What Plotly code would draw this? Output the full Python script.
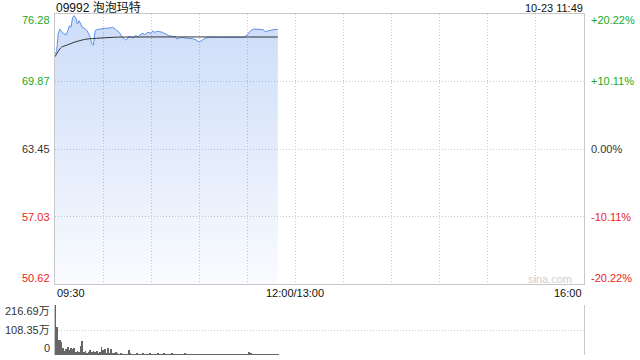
import plotly.graph_objects as go

# ---------------- data ----------------
title_text = "09992 泡泡玛特"
stamp_text = "10-23 11:49"
prev_close = 63.45

price_ticks = [50.62, 57.03, 63.45, 69.87, 76.28]
pct_ticks = ["-20.22%", "-10.11%", "0.00%", "+10.11%", "+20.22%"]
vol_ticks = [0, 108.35, 216.69]
vol_tick_text = ["0", "108.35万", "216.69万"]
x_tick_labels = ["09:30", "12:00/13:00", "16:00"]

price_times = ["09:30", "09:31", "09:32", "09:33", "09:35", "09:37", "09:38", "09:39", "09:40", "09:41",
               "09:42", "09:43", "09:44", "09:45", "09:46", "09:47", "09:49", "09:50", "09:52", "09:53",
               "09:54", "09:55", "09:56", "09:58", "10:01", "10:04", "10:06", "10:08", "10:10", "10:12",
               "10:14", "10:15", "10:16", "10:17", "10:19", "10:20", "10:22", "10:23", "10:25", "10:26",
               "10:28", "10:30", "10:31", "10:32", "10:34", "10:37", "10:39", "10:41", "10:43", "10:45",
               "10:46", "10:48", "10:49", "10:51", "10:53", "10:56", "10:58", "11:00", "11:02", "11:04",
               "11:06", "11:10", "11:13", "11:16", "11:19", "11:22", "11:25", "11:28", "11:30", "11:32",
               "11:34", "11:37", "11:40", "11:41", "11:43", "11:46", "11:49"]
price_values = [72.48, 72.73, 74.38, 74.85, 74.45, 74.31, 74.69, 75.17, 75.02, 75.97,
                76.12, 75.90, 75.33, 75.64, 75.33, 75.02, 74.85, 74.69, 74.07, 73.43,
                73.33, 74.69, 74.79, 74.85, 74.92, 74.95, 75.02, 74.79, 74.54, 74.07,
                73.81, 73.90, 74.16, 74.12, 74.00, 74.22, 74.12, 74.31, 74.45, 74.31,
                74.54, 74.45, 74.69, 74.54, 74.64, 74.54, 74.38, 74.22, 74.16, 74.12,
                73.90, 73.97, 74.07, 74.00, 74.00, 73.93, 73.81, 73.62, 73.81, 74.00,
                74.07, 74.07, 74.12, 74.12, 74.07, 74.12, 74.07, 74.07, 74.31, 74.69,
                74.85, 74.85, 74.79, 74.60, 74.69, 74.79, 74.83]

avg_times = ["09:30", "09:33", "09:34", "09:38", "09:42", "09:47", "09:50", "09:56", "10:07", "10:15", "11:49"]
avg_values = [72.22, 72.95, 73.12, 73.36, 73.59, 73.81, 73.90, 73.97, 74.07, 74.09, 74.09]

# volume per minute from 09:30 (万)
volumes = [216.69, 122.8, 65.0, 65.0, 57.8, 28.9, 18.8, 24.6, 36.0, 21.7,
           28.9, 24.6, 31.8, 14.4, 18.8, 14.4, 39.0, 62.0, 14.4, 18.8,
           10.0, 14.4, 21.7, 14.4, 18.8, 14.4, 18.8, 10.0, 14.4, 36.0,
           21.7, 27.4, 10.0, 28.9, 10.0, 26.0, 10.0, 7.0, 14.4, 7.0,
           4.0, 5.0, 3.0, 3.0, 4.0, 3.0, 21.7, 5.0, 3.0, 4.0,
           3.0, 5.0, 3.0, 4.0, 2.5, 6.0, 3.0, 4.0, 2.5, 5.0,
           3.0, 4.0, 2.5, 3.0, 6.0, 2.5, 4.0, 3.0, 5.0, 2.5,
           4.0, 3.0, 2.5, 5.0, 3.0, 4.0, 2.5, 3.0, 4.0, 2.5,
           3.0, 5.0, 2.5, 3.0, 4.0, 2.5, 3.0, 2.5, 4.0, 3.0,
           2.5, 3.0, 4.0, 2.5, 3.0, 2.5, 4.0, 2.5, 3.0, 2.5,
           2.5, 3.0, 2.5, 4.0, 2.5, 3.0, 2.5, 2.5, 3.0, 2.5,
           4.0, 2.5, 3.0, 2.5, 2.5, 3.0, 2.5, 4.0, 2.5, 3.0,
           2.5, 11.5, 5.0, 3.0, 4.0, 2.5, 3.0, 2.5, 4.0, 2.5,
           3.0, 2.5, 3.0, 2.5, 4.0, 2.5, 3.0, 2.5, 3.0, 2.5]


def minute_index(hhmm):
    h, m = map(int, hhmm.split(":"))
    t = h * 60 + m - (9 * 60 + 30)
    if t > 150:
        t -= 60  # lunch break 12:00-13:00
    return t


px = [minute_index(t) for t in price_times]
ax = [minute_index(t) for t in avg_times]
vx = list(range(len(volumes)))

# ---------------- style ----------------
W, H = 640, 360
FONT = "Liberation Sans, Arial, Noto Sans CJK SC"
GREEN = "#22a822"
RED = "#ee2222"
DARK = "#333333"
GRID = "#c8c8c8"
DOT = "1px,2px"

x0p, x1p = 55 / W, 584 / W
main_dom = [1 - 284 / H, 1 - 14 / H]
vol_dom = [1 - 355 / H, 1 - 305 / H]

fig = go.Figure()

fig.add_trace(go.Scatter(
    x=px, y=price_values, mode="lines",
    line=dict(color="#5b93e8", width=1),
    fill="tozeroy",
    fillgradient=dict(type="vertical",
                      colorscale=[[0, "rgba(60,120,230,0.03)"], [1, "rgba(60,120,230,0.26)"]],
                      start=price_ticks[0], stop=price_ticks[-1]),
    hoverinfo="skip", xaxis="x", yaxis="y"))

fig.add_trace(go.Scatter(
    x=ax, y=avg_values, mode="lines", line=dict(color="#333333", width=1),
    line_shape="spline", hoverinfo="skip", xaxis="x", yaxis="y"))

fig.add_trace(go.Bar(
    x=vx, y=volumes, width=0.55, marker=dict(color="#666666", line=dict(width=0)),
    hoverinfo="skip", xaxis="x2", yaxis="y2"))

grid_x = list(range(0, 331, 30))

fig.update_layout(
    width=W, height=H, margin=dict(l=0, r=0, t=0, b=0),
    paper_bgcolor="white", plot_bgcolor="white", showlegend=False,
    bargap=0,
    font=dict(family=FONT, size=11, color=DARK),
    xaxis=dict(domain=[x0p, x1p], range=[0, 330], tickvals=grid_x, showticklabels=False,
               showgrid=True, gridcolor=GRID, griddash=DOT, gridwidth=1,
               showline=True, mirror=True, linecolor=GRID, linewidth=1,
               zeroline=False, ticks="", anchor="y"),
    yaxis=dict(domain=main_dom, range=[price_ticks[0], price_ticks[-1]], tickvals=price_ticks,
               showticklabels=False, showgrid=True, gridcolor=GRID, griddash=DOT,
               showline=True, mirror=True, linecolor=GRID, linewidth=1,
               zeroline=False, ticks="", anchor="x"),
    xaxis2=dict(domain=[x0p, x1p], range=[0, 330], showticklabels=False, showgrid=False,
                showline=False, zeroline=False, ticks="", anchor="y2", matches="x"),
    yaxis2=dict(domain=vol_dom, range=[0, vol_ticks[-1]], tickvals=vol_ticks,
                showticklabels=False, showgrid=True, gridcolor=GRID, griddash=DOT,
                showline=True, mirror=True, linecolor=GRID, linewidth=1,
                zeroline=False, ticks="", anchor="x2"),
)

ann = []
# title & timestamp
ann.append(dict(text=title_text, xref="paper", yref="paper", x=54 / W, y=1 - 7 / H,
                xanchor="left", yanchor="middle", showarrow=False,
                font=dict(size=12, color="#111111")))
ann.append(dict(text=stamp_text, xref="paper", yref="paper", x=585 / W, y=1 - 8 / H,
                xanchor="right", yanchor="middle", showarrow=False,
                font=dict(size=11, color="#111111")))

# price & percent labels
for i, (v, p) in enumerate(zip(price_ticks, pct_ticks)):
    if v > prev_close + 0.001:
        col = GREEN
    elif v < prev_close - 0.001:
        col = RED
    else:
        col = DARK
    shift = 0
    if i == 0:
        shift = 6
    elif i == len(price_ticks) - 1:
        shift = -6
    ann.append(dict(text=f"{v:.2f}", xref="paper", yref="y", x=52 / W, y=v, yshift=shift,
                    xanchor="right", yanchor="middle", showarrow=False,
                    font=dict(size=11, color=col)))
    ann.append(dict(text=p, xref="paper", yref="y", x=589 / W, y=v, yshift=shift,
                    xanchor="left", yanchor="middle", showarrow=False,
                    font=dict(size=11, color=col)))

# volume labels
vshift = [7, 0, -6]
for v, t, s in zip(vol_ticks, vol_tick_text, vshift):
    ann.append(dict(text=t, xref="paper", yref="y2", x=52 / W, y=v, yshift=s,
                    xanchor="right", yanchor="middle", showarrow=False,
                    font=dict(size=11, color=DARK)))

# x labels
xl_pos = [0, 150, 330]
xl_anchor = ["left", "center", "right"]
for lab, xv, an in zip(x_tick_labels, xl_pos, xl_anchor):
    ann.append(dict(text=lab, xref="x", yref="paper", x=xv, y=1 - 293 / H,
                    xanchor=an, yanchor="middle", showarrow=False,
                    font=dict(size=11, color="#111111")))

# watermark
ann.append(dict(text="sina.com", xref="paper", yref="paper", x=574 / W, y=1 - 279 / H,
                xanchor="right", yanchor="middle", showarrow=False,
                font=dict(size=11, color="#cfcfcf")))

fig.update_layout(annotations=ann)

fig.write_html("out.html")
